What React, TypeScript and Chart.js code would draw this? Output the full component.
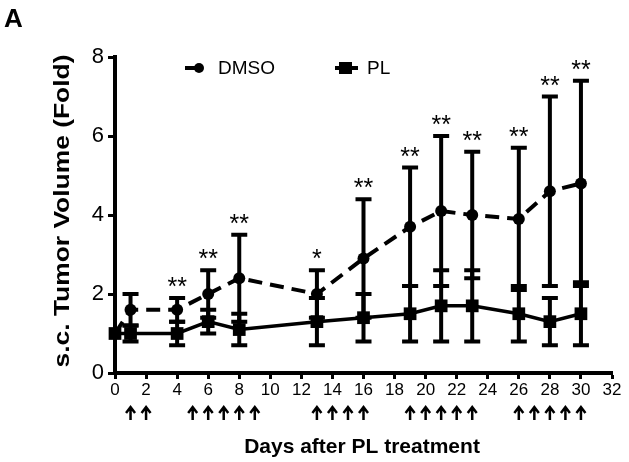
import React, { useEffect, useRef } from 'react';
import { Chart, registerables } from 'chart.js';

Chart.register(...registerables);

// ---- Data ----
const days = [0, 1, 4, 6, 8, 13, 16, 19, 21, 23, 26, 28, 30];
const dmsoMean = [1.0, 1.6, 1.6, 2.0, 2.4, 2.0, 2.9, 3.7, 4.1, 4.0, 3.9, 4.6, 4.8];
const dmsoErr = [0, 0.4, 0.3, 0.6, 1.1, 0.6, 1.5, 1.5, 1.9, 1.6, 1.8, 2.4, 2.6];
const plMean = [1.0, 1.0, 1.0, 1.3, 1.1, 1.3, 1.4, 1.5, 1.7, 1.7, 1.5, 1.3, 1.5];
const plErr = [0, 0.2, 0.3, 0.3, 0.4, 0.6, 0.6, 0.7, 0.9, 0.9, 0.7, 0.6, 0.8];
const stars = ['', '', '**', '**', '**', '*', '**', '**', '**', '**', '**', '**', '**'];
const arrowDays = [1, 2, 5, 6, 7, 8, 9, 13, 14, 15, 16, 19, 20, 21, 22, 23, 26, 27, 28, 29, 30];
const xTicks = [0, 2, 4, 6, 8, 10, 12, 14, 16, 18, 20, 22, 24, 26, 28, 30, 32];
const yTicks = [0, 2, 4, 6, 8];
const seriesNames = ['DMSO', 'PL'];
const panelLabel = 'A';
const xTitle = 'Days after PL treatment';
const yTitle = 's.c. Tumor Volume (Fold)';

const FONT = '"Liberation Sans", Arial, Helvetica, sans-serif';
const errs = [dmsoErr, plErr];

const decorPlugin = {
  id: 'decor',
  beforeDatasetsDraw(chart: any) {
    const ctx = chart.ctx;
    const xs = chart.scales.x;
    const ys = chart.scales.y;
    ctx.save();
    ctx.strokeStyle = '#000';
    ctx.lineWidth = 4;
    ctx.lineCap = 'butt';
    chart.data.datasets.forEach((ds: any, di: number) => {
      ds.data.forEach((p: any, i: number) => {
        const e = errs[di][i];
        if (!e) return;
        const x = xs.getPixelForValue(p.x);
        const yt = ys.getPixelForValue(p.y + e);
        const yb = ys.getPixelForValue(p.y - e);
        ctx.beginPath();
        ctx.moveTo(x, yt);
        ctx.lineTo(x, yb);
        ctx.moveTo(x - 8, yt);
        ctx.lineTo(x + 8, yt);
        ctx.moveTo(x - 8, yb);
        ctx.lineTo(x + 8, yb);
        ctx.stroke();
      });
    });
    ctx.restore();
  },
  afterDraw(chart: any) {
    const ctx = chart.ctx;
    const xs = chart.scales.x;
    const ys = chart.scales.y;
    ctx.save();
    ctx.fillStyle = '#000';
    ctx.strokeStyle = '#000';

    // significance stars
    ctx.font = `25px ${FONT}`;
    ctx.textAlign = 'center';
    ctx.textBaseline = 'alphabetic';
    days.forEach((d, i) => {
      if (!stars[i]) return;
      const x = xs.getPixelForValue(d);
      const y = ys.getPixelForValue(dmsoMean[i] + dmsoErr[i]);
      ctx.fillText(stars[i], x, y - 3);
    });

    // treatment arrows
    ctx.lineWidth = 2.5;
    arrowDays.forEach((d) => {
      const x = xs.getPixelForValue(d);
      const top = 407;
      const bot = 420;
      ctx.beginPath();
      ctx.moveTo(x, bot);
      ctx.lineTo(x, top + 1);
      ctx.moveTo(x - 4.5, top + 6);
      ctx.lineTo(x, top);
      ctx.lineTo(x + 4.5, top + 6);
      ctx.stroke();
    });

    // panel label
    ctx.textAlign = 'left';
    ctx.font = `bold 26px ${FONT}`;
    ctx.fillText(panelLabel, 4, 27);

    // x title
    ctx.textAlign = 'center';
    ctx.font = `bold 21px ${FONT}`;
    ctx.fillText(xTitle, 362, 453);

    // y title
    ctx.save();
    ctx.translate(69, 211);
    ctx.rotate(-Math.PI / 2);
    ctx.scale(1.2, 1);
    ctx.font = `bold 22px ${FONT}`;
    ctx.textAlign = 'center';
    ctx.textBaseline = 'alphabetic';
    ctx.fillText(yTitle, 0, 0);
    ctx.restore();

    // legend
    ctx.lineWidth = 4;
    ctx.beginPath();
    ctx.moveTo(185, 68);
    ctx.lineTo(199, 68);
    ctx.stroke();
    ctx.beginPath();
    ctx.arc(199, 68, 5, 0, Math.PI * 2);
    ctx.fill();
    ctx.beginPath();
    ctx.moveTo(335, 68);
    ctx.lineTo(358, 68);
    ctx.stroke();
    ctx.fillRect(339, 62, 13, 12);
    ctx.font = `19px ${FONT}`;
    ctx.textAlign = 'left';
    ctx.textBaseline = 'middle';
    ctx.fillText(seriesNames[0], 218, 69);
    ctx.fillText(seriesNames[1], 367, 69);
    ctx.restore();
  },
};

export default function App() {
  const ref = useRef<HTMLCanvasElement | null>(null);
  useEffect(() => {
    if (!ref.current) return;
    const chart = new Chart(ref.current, {
      type: 'line',
      data: {
        datasets: [
          {
            label: seriesNames[0],
            data: days.map((d, i) => ({ x: d, y: dmsoMean[i] })),
            borderColor: '#000',
            backgroundColor: '#000',
            borderWidth: 4,
            borderDash: [14, 8],
            pointStyle: 'circle',
            pointRadius: 6,
            pointBorderWidth: 0,
            fill: false,
            tension: 0,
            clip: false,
          },
          {
            label: seriesNames[1],
            data: days.map((d, i) => ({ x: d, y: plMean[i] })),
            borderColor: '#000',
            backgroundColor: '#000',
            borderWidth: 3.5,
            pointStyle: 'rect',
            pointRadius: 9,
            pointBorderWidth: 0,
            fill: false,
            tension: 0,
            clip: false,
          },
        ],
      },
      options: {
        responsive: false,
        animation: false,
        devicePixelRatio: 1,
        layout: { padding: { top: 57, right: 17, left: 0, bottom: 0 } },
        plugins: { legend: { display: false }, tooltip: { enabled: false } },
        scales: {
          x: {
            type: 'linear',
            min: 0,
            max: 32,
            afterBuildTicks: (s: any) => {
              s.ticks = xTicks.map((v) => ({ value: v }));
            },
            afterFit: (s: any) => {
              s.height = 89;
            },
            ticks: {
              font: { family: FONT, size: 17 },
              color: '#000',
              padding: 1,
              maxRotation: 0,
              autoSkip: false,
            },
            grid: {
              drawOnChartArea: false,
              drawTicks: true,
              tickLength: 6,
              tickWidth: 3,
              tickColor: '#000',
            },
            border: { display: true, color: '#000', width: 4 },
          },
          y: {
            type: 'linear',
            min: 0,
            max: 8,
            afterBuildTicks: (s: any) => {
              s.ticks = yTicks.map((v) => ({ value: v }));
            },
            afterFit: (s: any) => {
              s.width = 115;
            },
            ticks: {
              font: { family: FONT, size: 22 },
              color: '#000',
              padding: 4,
            },
            grid: {
              drawOnChartArea: false,
              drawTicks: true,
              tickLength: 7,
              tickWidth: 3,
              tickColor: '#000',
            },
            border: { display: true, color: '#000', width: 4 },
          },
        },
      },
      plugins: [decorPlugin],
    } as any);
    return () => chart.destroy();
  }, []);
  return (
    <div style={{ position: 'absolute', left: 0, top: 0, width: 629, height: 462, background: '#fff' }}>
      <canvas ref={ref} width={629} height={462} style={{ display: 'block' }} />
    </div>
  );
}
